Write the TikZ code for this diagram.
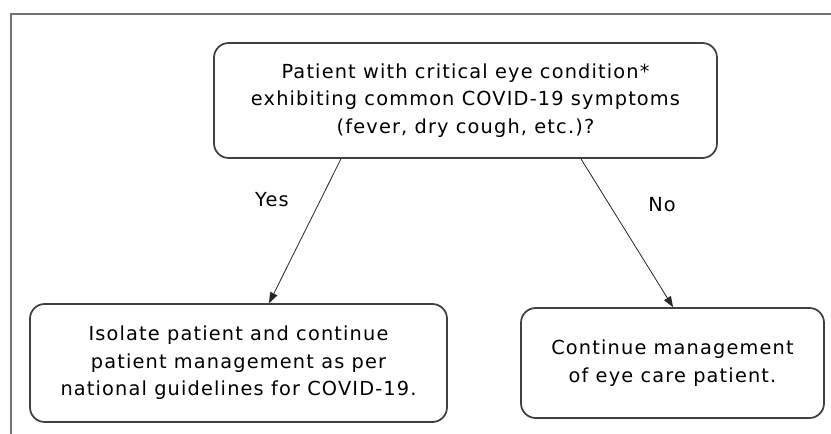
\documentclass[tikz,border=0pt]{standalone}
\usepackage{fontspec}
\setmainfont[LetterSpace=6]{DejaVu Sans}
\usetikzlibrary{arrows.meta}

\begin{document}
\begin{tikzpicture}[x=0.75pt,y=-0.75pt]
  \tikzstyle{every node}=[font=\fontsize{14.5}{20.6}\selectfont]
  \tikzstyle{box}=[draw=black!75, line width=1.3pt, rounded corners=11pt, align=center, inner sep=0pt]
  \tikzstyle{link}=[draw=black!85, line width=0.6pt, -{Triangle[length=8pt,width=6pt]}]
  \useasboundingbox (0,0) rectangle (831,434);
  % frame
  \draw[black!55, line width=1.3pt] (11,434) -- (11,14) -- (831,14);
  % boxes
  \node[box, minimum width=377.25pt, minimum height=86.25pt] (cond) at (465.5,100.5)
    {Patient with critical eye condition*\\exhibiting common COVID-19 symptoms\\(fever, dry cough, etc.)?};
  \node[box, minimum width=312.75pt, minimum height=88.5pt] (isolate) at (238.5,363)
    {Isolate patient and continue\\patient management as per\\national guidelines for COVID-19.};
  \node[box, minimum width=227.25pt, minimum height=82.5pt] (cont) at (672.5,363)
    {Continue management\\of eye care patient.};
  % arrows
  \draw[link] ([xshift=-93.4pt]cond.south) -- ([xshift=22.9pt]isolate.north);
  \draw[link] ([xshift=86.6pt]cond.south) -- ([xshift=0.4pt]cont.north);
  \node (yes) at (272,200) {Yes};
  \node (no) at (662,205) {No};
\end{tikzpicture}
\end{document}
